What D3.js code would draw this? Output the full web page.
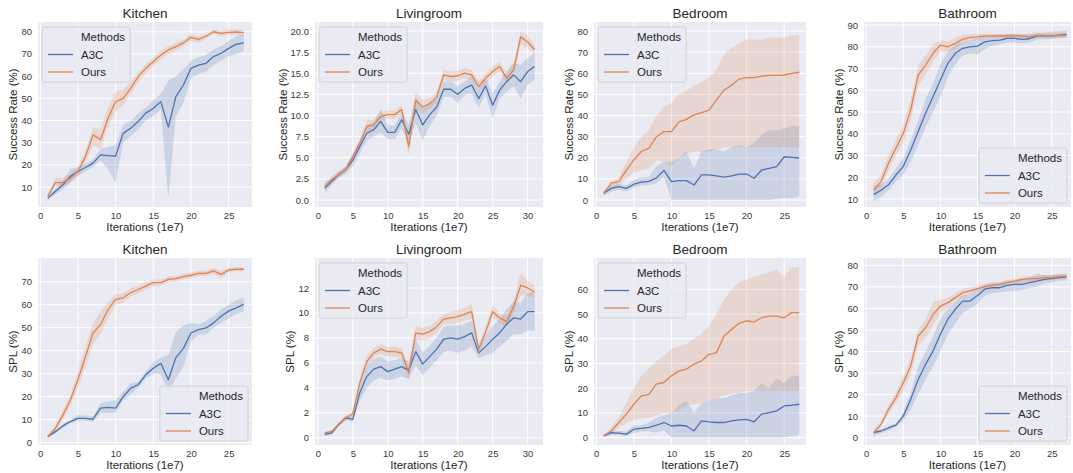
<!DOCTYPE html>
<html>
<head>
<meta charset="utf-8">
<script src="https://cdn.jsdelivr.net/npm/d3@7"></script>
<style>
  body { margin: 0; background: #fff; }
  svg { display: block; }
  text { font-family: "Liberation Sans", Arial, sans-serif; }
</style>
</head>
<body>
<svg id="chart" width="1073" height="473"></svg>
<script>
// iterations (1e7)
const iters27 = [1,2,3,4,5,6,7,8,9,10,11,12,13,14,15,16,17,18,19,20,21,22,23,24,25,26,27];
const iters31 = [1,2,3,4,5,6,7,8,9,10,11,12,13,14,15,16,17,18,19,20,21,22,23,24,25,26,27,28,29,30,31];

const methods = ['A3C', 'Ours'];

// Kitchen - success rate
const kitSrA3c   = [5, 8, 11, 14.8, 17, 18.8, 20.8, 24.5, 24.2, 24, 34.2, 36.5, 39.5, 43.3, 45.5, 48.5, 37, 50.8, 56, 63.5, 65, 65.8, 68.8, 70.3, 72.5, 74.3, 75];
const kitSrA3cLo = [4, 6.5, 9, 12, 15, 17, 19, 22, 18, 12, 30, 33, 36, 40, 42, 45, 5, 42, 48, 59, 61, 62, 65, 67, 69, 70, 71];
const kitSrA3cHi = [6, 9.5, 13, 18, 19, 20.5, 22.5, 27, 28, 29, 38, 40, 43, 46, 49, 52, 58, 60, 63, 67, 68.5, 69.5, 72, 73.5, 76, 78, 79];
const kitSrOurs   = [5.8, 12, 12, 14, 17, 23.8, 33.5, 31.3, 41, 48.5, 50, 54.5, 59.8, 63.5, 66.5, 69.5, 71.8, 73.3, 75, 77.5, 76.6, 78, 80, 79.3, 79.7, 79.9, 79.6];
const kitSrOursLo = [5, 10.5, 10, 12, 15, 21, 29, 27, 37, 44, 47, 52, 57, 61.5, 64.5, 67.5, 70, 71.5, 73.5, 76, 75, 77, 79, 78, 78.5, 78.5, 78];
const kitSrOursHi = [6.5, 14, 14, 16, 19, 26, 37, 36, 46, 53, 54, 57.5, 62, 65.5, 68.5, 71.5, 73.5, 75, 76.5, 79, 78, 79, 81, 80.5, 81, 81, 81];

// Livingroom - success rate
const livSrA3c   = [1.4, 2.2, 3.0, 3.6, 4.7, 6.3, 7.9, 8.3, 9.3, 8.0, 8.0, 9.5, 7.8, 10.7, 8.9, 10.1, 11.0, 13.1, 13.1, 12.5, 13.2, 13.6, 12.0, 13.5, 11.2, 13.0, 14.0, 14.8, 14.0, 15.2, 15.8];
const livSrA3cLo = [0.8, 1.8, 2.6, 3.2, 4.0, 5.5, 7.0, 7.5, 8.0, 7.2, 7.2, 8.5, 6.5, 9.2, 7.0, 8.8, 10.0, 12.2, 12.2, 11.5, 12.4, 12.6, 11.0, 12.5, 9.6, 12.0, 12.8, 13.5, 12.0, 13.6, 14.2];
const livSrA3cHi = [2.0, 2.6, 3.4, 4.0, 5.4, 7.0, 8.8, 9.2, 10.8, 8.8, 8.8, 10.4, 9.0, 12.2, 10.8, 11.4, 12.0, 14.0, 14.0, 13.5, 14.0, 14.6, 13.0, 14.5, 12.6, 14.0, 15.2, 16.2, 16.0, 16.8, 17.4];
const livSrOurs   = [1.6, 2.4, 3.0, 3.6, 5.1, 6.7, 8.7, 8.9, 9.9, 10.1, 10.1, 10.7, 6.3, 11.8, 11.0, 11.4, 12.2, 14.8, 14.6, 14.7, 15.0, 14.8, 13.4, 14.4, 15.2, 15.8, 14.4, 15.4, 19.3, 18.7, 17.8];
const livSrOursLo = [1.2, 2.0, 2.6, 3.2, 4.6, 6.2, 8.0, 8.3, 9.4, 9.6, 9.6, 10.2, 5.3, 10.8, 10.2, 10.8, 11.6, 14.2, 14.0, 14.1, 14.4, 14.2, 12.8, 13.8, 14.6, 15.2, 13.8, 14.6, 18.4, 18.0, 17.2];
const livSrOursHi = [2.0, 2.8, 3.4, 4.0, 5.6, 7.2, 9.4, 9.5, 10.4, 10.6, 10.6, 11.2, 7.3, 12.8, 11.8, 12.0, 12.8, 15.4, 15.2, 15.3, 15.6, 15.4, 14.0, 15.0, 15.8, 16.4, 15.0, 16.2, 20.0, 19.4, 18.4];

// Bedroom - success rate
const bedSrA3c   = [3.2, 5.5, 6.3, 5.5, 7.5, 8.5, 8.8, 10.5, 14, 8.7, 9.2, 9.2, 7.1, 11.9, 11.9, 11.4, 10.8, 11.4, 12.3, 12.3, 10.3, 14.2, 15.0, 15.8, 20.5, 20.2, 19.9];
const bedSrA3cLo = [2, 4, 5, 4, 6, 7, 7, 8, 11, 0, 0, 0, 0, 0, 0, 0, 0, 0, 0, 0, 0, 0, 0, 0.5, 1, 1, 1.5];
const bedSrA3cHi = [4.5, 7, 7.5, 7, 9.5, 10.5, 11, 16, 18, 18, 20, 23, 15, 23, 24, 24, 23, 25, 26, 25, 27, 31, 33, 33, 34, 35, 35];
const bedSrOurs   = [3.2, 8, 8.7, 14, 19, 23, 24.5, 30, 32.4, 32.4, 37, 38.2, 40.3, 41.4, 42.6, 47.4, 52, 54.4, 57.3, 58, 58, 58.7, 59, 59, 59.2, 60, 60.5];
const bedSrOursLo = [2.5, 6, 6.5, 10, 13, 14, 15, 19, 18, 16, 20, 22, 23, 23, 23, 24, 25, 25, 25, 25, 25, 25, 25, 25, 25, 25, 25];
const bedSrOursHi = [4, 9, 10.5, 18, 25, 30, 33, 40, 44, 46, 50, 52, 54, 56, 58, 62, 69, 72, 74, 76, 76, 76, 77, 77, 77, 78, 78];

// Bathroom - success rate
const bathSrA3c   = [12, 14, 16.5, 21, 25, 32.5, 41, 49.4, 57, 64.7, 72.4, 77, 79.3, 80, 80.3, 82.3, 82.8, 83.1, 83.9, 83.9, 83.4, 83.7, 85, 85, 85, 85.4, 85.7];
const bathSrA3cLo = [9, 11, 14, 18, 21, 27, 35, 43, 50, 57, 66, 72, 76, 77, 76.5, 79, 80.5, 81, 82, 82, 81.5, 82, 83.5, 83.5, 83.5, 84, 84];
const bathSrA3cHi = [16, 17, 19, 24, 29, 37, 46, 56, 63, 72, 78, 81, 82, 83, 84, 85, 85, 85.5, 85.8, 86, 85.5, 86, 86.5, 86.5, 87, 87, 87.5];
const bathSrOurs   = [14, 18, 26.4, 33.3, 40.2, 51, 67, 71.6, 77, 80.8, 80, 81.6, 83.4, 84.3, 84.6, 85, 85, 85, 85, 85, 85, 84.6, 85.2, 85.2, 85, 85.2, 85.4];
const bathSrOursLo = [12, 15, 23, 30, 36, 46, 62, 67, 73, 78, 78, 79, 81.5, 83, 83.5, 84, 84, 84, 84, 84, 84, 83.5, 84, 84, 84, 84, 84.2];
const bathSrOursHi = [17, 21, 30, 37, 44, 56, 71, 76, 81, 83, 82.5, 84, 85.5, 85.8, 86, 86, 86, 86, 86, 86, 86, 85.7, 86.3, 86.3, 86, 86.3, 86.5];

// Kitchen - SPL
const kitSplA3c   = [2.6, 4.8, 7.3, 9.2, 10.6, 10.6, 10.2, 15, 15.4, 15, 20, 23.7, 25.2, 29.5, 32.4, 34.5, 27.4, 37, 41, 47.7, 49.2, 49.9, 52.1, 55, 57.2, 58.6, 60.1];
const kitSplA3cLo = [2, 4, 6.5, 8.5, 9.5, 9.5, 9, 13, 13, 13, 18.5, 21, 24, 28, 30, 30, 22, 28, 33, 44, 47, 47, 50, 52, 54, 56, 57];
const kitSplA3cHi = [3.5, 5.5, 8, 10, 12, 11.8, 11.5, 17, 18, 18.5, 22, 26, 26.5, 31, 35, 37, 38, 48, 51, 52, 51.5, 53, 55, 58, 60, 62, 63];
const kitSplOurs   = [2.6, 6.2, 12, 18.6, 27.4, 37.5, 47.7, 51.4, 57.9, 62.3, 63, 65.2, 66.6, 68.1, 69.6, 69.6, 71, 71.3, 72.2, 72.8, 73.6, 73.6, 74.7, 73.2, 75.1, 75.4, 75.4];
const kitSplOursLo = [2, 5, 10, 16, 24, 33, 43, 47, 54, 60, 61, 63.5, 65, 66.5, 68, 68.3, 69.8, 70, 71, 71.6, 72.4, 72.4, 73.5, 71.5, 74, 74.4, 74.4];
const kitSplOursHi = [3.5, 7.5, 14, 21, 31, 42, 52, 57, 61, 64.5, 65, 67, 68.2, 69.6, 71, 71, 72.3, 72.6, 73.4, 74, 74.8, 74.8, 75.9, 74.7, 76.2, 76.4, 76.4];

// Livingroom - SPL
const livSplA3c   = [0.27, 0.4, 1.07, 1.6, 1.47, 3.6, 4.9, 5.5, 5.7, 5.3, 5.5, 5.7, 5.4, 6.9, 5.9, 6.5, 7.1, 7.9, 8.0, 7.9, 8.1, 8.4, 6.8, 7.3, 7.9, 8.4, 9.1, 9.6, 9.5, 10.1, 10.1];
const livSplA3cLo = [0.15, 0.25, 0.9, 1.4, 1.3, 3.0, 4.0, 4.6, 4.8, 4.6, 4.7, 4.9, 4.7, 5.8, 5.0, 5.6, 6.2, 6.9, 7.0, 6.8, 7.0, 7.3, 6.4, 6.6, 6.8, 7.3, 7.8, 8.3, 8.3, 8.6, 8.6];
const livSplA3cHi = [0.4, 0.6, 1.25, 1.8, 1.7, 4.2, 5.7, 6.3, 6.5, 6.1, 6.2, 6.4, 6.1, 7.9, 6.8, 7.4, 8.0, 8.9, 9.0, 9.0, 9.1, 9.4, 7.3, 8.2, 9.0, 9.5, 10.3, 10.9, 10.8, 11.6, 11.7];
const livSplOurs   = [0.4, 0.5, 1.07, 1.6, 1.9, 4.4, 6.1, 6.8, 7.1, 6.9, 6.9, 6.8, 5.2, 8.4, 8.3, 8.5, 8.9, 9.5, 9.6, 9.7, 9.9, 10.1, 7.1, 8.5, 10.1, 9.6, 9.3, 10.5, 12.2, 12.0, 11.7];
const livSplOursLo = [0.3, 0.4, 0.95, 1.45, 1.7, 4.0, 5.6, 6.4, 6.7, 6.5, 6.5, 6.4, 4.6, 7.8, 7.8, 8.0, 8.4, 9.1, 9.1, 9.2, 9.4, 9.5, 6.7, 8.1, 9.6, 9.2, 8.9, 10.0, 11.4, 11.4, 11.2];
const livSplOursHi = [0.5, 0.6, 1.2, 1.75, 2.1, 4.8, 6.6, 7.2, 7.5, 7.3, 7.3, 7.2, 5.8, 9.0, 8.8, 9.0, 9.4, 9.9, 10.1, 10.2, 10.4, 10.7, 7.5, 8.9, 10.6, 10.0, 9.7, 11.0, 13.2, 12.6, 12.2];

// Bedroom - SPL
const bedSplA3c   = [0.7, 2, 1.8, 1.4, 3.4, 3.7, 4.1, 5, 6.1, 4.7, 5, 4.7, 2.7, 6.8, 6.4, 6.1, 6.1, 6.8, 7.2, 7.4, 6.4, 9.5, 10.1, 10.8, 12.8, 13.1, 13.5];
const bedSplA3cLo = [0.2, 1, 1, 0.5, 2, 2.5, 2.5, 2, 3, 0, 0, 0, 0, 0, 0, 0, 0, 0, 0, 0, 0, 0, 0, 0, 0, 0.5, 1];
const bedSplA3cHi = [1.5, 3, 2.8, 2.5, 5, 5, 6, 8, 9, 10, 13, 15, 10, 14, 15, 16, 16, 17, 18, 18, 19, 22, 20, 24, 22, 25, 25];
const bedSplOurs   = [0.7, 2.7, 6.1, 9.5, 13.5, 16.9, 17.5, 21.6, 22.3, 25, 27, 27.7, 29.7, 31, 33.7, 34.4, 41.1, 43.8, 46.3, 47.2, 46.8, 48.5, 49.2, 49.2, 48.5, 50.6, 50.6];
const bedSplOursLo = [0.3, 1.5, 4, 6, 7, 8, 8, 9, 10, 10, 11, 13, 13.5, 14, 15, 16, 17, 18, 18, 19, 19, 19, 19, 19, 19, 19, 19];
const bedSplOursHi = [1, 4, 8, 14, 20, 25, 28, 31, 33, 36, 37, 38, 40, 42, 45, 50, 56, 60, 63, 64, 65, 66, 67, 68, 65, 69, 69];

// Bathroom - SPL
const bathSplA3c   = [2.3, 3.1, 4.5, 5.8, 10, 17.8, 27, 34, 40.2, 48, 55, 59.6, 63.4, 63.4, 66, 68.9, 69.6, 69.6, 70.7, 71.2, 71.2, 72, 72.7, 73.5, 73.8, 74.3, 74.7];
const bathSplA3cLo = [0.5, 2, 3.5, 5, 8, 13, 20, 27, 33, 40, 48, 53, 58, 60, 62, 66, 67, 67.5, 68, 68, 68.5, 69.5, 70, 71.5, 72, 73, 73];
const bathSplA3cHi = [3.5, 4.2, 5.5, 6.5, 12, 21, 33, 40, 47, 55, 60, 63, 66, 66.5, 69, 71, 71.8, 72, 72.8, 73, 73.5, 74.5, 76, 75.5, 75.5, 76, 76];
const bathSplOurs   = [2.3, 6.2, 13.1, 18.5, 25.5, 33.3, 47.2, 51, 57.2, 61.1, 62.7, 65, 67.3, 68.1, 69.2, 70.1, 70.7, 71.2, 72, 72.7, 73.5, 73.8, 73.8, 74.3, 74.3, 74.7, 75];
const bathSplOursLo = [1.5, 5, 11, 16, 22, 29, 43, 46, 52, 58, 60.5, 63, 65.5, 66.5, 67.8, 68.8, 69.4, 70, 70.8, 71.5, 72.3, 72.6, 72.6, 73.1, 73.1, 73.5, 73.8];
const bathSplOursHi = [4, 7.5, 15, 21, 29, 37, 50, 55, 63, 64, 65, 67, 69, 69.7, 70.6, 71.4, 72, 72.4, 73.2, 73.9, 74.7, 75, 75, 75.5, 75.5, 75.9, 76.2];

// tick values
const xTicks27 = [0, 5, 10, 15, 20, 25];
const xTicks31 = [0, 5, 10, 15, 20, 25, 30];
const kitSrTicks = [10, 20, 30, 40, 50, 60, 70, 80];
const livSrTicks = [0, 2.5, 5, 7.5, 10, 12.5, 15, 17.5, 20];
const bedSrTicks = [0, 10, 20, 30, 40, 50, 60, 70, 80];
const bathSrTicks = [10, 20, 30, 40, 50, 60, 70, 80, 90];
const kitSplTicks = [0, 10, 20, 30, 40, 50, 60, 70];
const livSplTicks = [0, 2, 4, 6, 8, 10, 12];
const bedSplTicks = [0, 10, 20, 30, 40, 50, 60];
const bathSplTicks = [0, 10, 20, 30, 40, 50, 60, 70, 80];

// layout
const colX = [[38, 252], [315, 543], [594, 806], [864, 1071]];
const rowY = [[22, 207], [258, 445]];
const colors = { A3C: '#4C72B0', Ours: '#DD8452' };

const panels = [
  { title: 'Kitchen', ylabel: 'Success Rate (%)', col: 0, row: 0, x: iters27, xDomain: [-0.3, 28.1], xTicks: xTicks27,
    yDomain: [1, 84.4], yTicks: kitSrTicks, fmt: d3.format('d'), legend: 'ul',
    series: [[kitSrA3c, kitSrA3cLo, kitSrA3cHi], [kitSrOurs, kitSrOursLo, kitSrOursHi]] },
  { title: 'Livingroom', ylabel: 'Success Rate (%)', col: 1, row: 0, x: iters31, xDomain: [-0.4, 32.2], xTicks: xTicks31,
    yDomain: [-0.83, 21.06], yTicks: livSrTicks, fmt: d3.format('.1f'), legend: 'ul',
    series: [[livSrA3c, livSrA3cLo, livSrA3cHi], [livSrOurs, livSrOursLo, livSrOursHi]] },
  { title: 'Bedroom', ylabel: 'Success Rate (%)', col: 2, row: 0, x: iters27, xDomain: [-0.3, 27.9], xTicks: xTicks27,
    yDomain: [-3.3, 84.3], yTicks: bedSrTicks, fmt: d3.format('d'), legend: 'ul',
    series: [[bedSrA3c, bedSrA3cLo, bedSrA3cHi], [bedSrOurs, bedSrOursLo, bedSrOursHi]] },
  { title: 'Bathroom', ylabel: 'Success Rate (%)', col: 3, row: 0, x: iters27, xDomain: [-0.3, 27.6], xTicks: xTicks27,
    yDomain: [6.3, 91.4], yTicks: bathSrTicks, fmt: d3.format('d'), legend: 'lr',
    series: [[bathSrA3c, bathSrA3cLo, bathSrA3cHi], [bathSrOurs, bathSrOursLo, bathSrOursHi]] },
  { title: 'Kitchen', ylabel: 'SPL (%)', col: 0, row: 1, x: iters27, xDomain: [-0.3, 28.1], xTicks: xTicks27,
    yDomain: [-1, 80.3], yTicks: kitSplTicks, fmt: d3.format('d'), legend: 'lr',
    series: [[kitSplA3c, kitSplA3cLo, kitSplA3cHi], [kitSplOurs, kitSplOursLo, kitSplOursHi]] },
  { title: 'Livingroom', ylabel: 'SPL (%)', col: 1, row: 1, x: iters31, xDomain: [-0.4, 32.2], xTicks: xTicks31,
    yDomain: [-0.58, 14.4], yTicks: livSplTicks, fmt: d3.format('d'), legend: 'ul',
    series: [[livSplA3c, livSplA3cLo, livSplA3cHi], [livSplOurs, livSplOursLo, livSplOursHi]] },
  { title: 'Bedroom', ylabel: 'SPL (%)', col: 2, row: 1, x: iters27, xDomain: [-0.3, 27.9], xTicks: xTicks27,
    yDomain: [-3, 72.7], yTicks: bedSplTicks, fmt: d3.format('d'), legend: 'ul',
    series: [[bedSplA3c, bedSplA3cLo, bedSplA3cHi], [bedSplOurs, bedSplOursLo, bedSplOursHi]] },
  { title: 'Bathroom', ylabel: 'SPL (%)', col: 3, row: 1, x: iters27, xDomain: [-0.3, 27.6], xTicks: xTicks27,
    yDomain: [-3.4, 83.4], yTicks: bathSplTicks, fmt: d3.format('d'), legend: 'lr',
    series: [[bathSplA3c, bathSplA3cLo, bathSplA3cHi], [bathSplOurs, bathSplOursLo, bathSplOursHi]] }
];

const svg = d3.select('#chart');
const textColor = '#262626';

panels.forEach(p => {
  const [x0, x1] = colX[p.col];
  const [y0, y1] = rowY[p.row];
  const width = x1 - x0;
  const height = y1 - y0;

  const g = svg.append('g').attr('transform', `translate(${x0},${y0})`);

  const xScale = d3.scaleLinear().domain(p.xDomain).range([0, width]);
  const yScale = d3.scaleLinear().domain(p.yDomain).range([height, 0]);

  // background + grid
  g.append('rect').attr('width', width).attr('height', height).attr('fill', '#EAEAF2');
  g.selectAll('.gy').data(p.yTicks).enter().append('line')
    .attr('x1', 0).attr('x2', width)
    .attr('y1', d => yScale(d)).attr('y2', d => yScale(d))
    .attr('stroke', '#fff').attr('stroke-width', 1);
  g.selectAll('.gx').data(p.xTicks).enter().append('line')
    .attr('y1', 0).attr('y2', height)
    .attr('x1', d => xScale(d)).attr('x2', d => xScale(d))
    .attr('stroke', '#fff').attr('stroke-width', 1);

  // confidence bands first, then lines on top
  const idx = p.x.map((_, i) => i);
  p.series.forEach((s, k) => {
    const [, lo, hi] = s;
    const area = d3.area()
      .x(i => xScale(p.x[i]))
      .y0(i => yScale(lo[i]))
      .y1(i => yScale(hi[i]));
    g.append('path').datum(idx).attr('d', area)
      .attr('fill', colors[methods[k]]).attr('fill-opacity', 0.2);
  });
  p.series.forEach((s, k) => {
    const mean = s[0];
    const line = d3.line().x(i => xScale(p.x[i])).y(i => yScale(mean[i]));
    g.append('path').datum(idx).attr('d', line)
      .attr('fill', 'none').attr('stroke', colors[methods[k]])
      .attr('stroke-width', 1.3).attr('stroke-linejoin', 'round');
  });

  // axes
  const xAxis = g.append('g').attr('transform', `translate(0,${height})`)
    .call(d3.axisBottom(xScale).tickValues(p.xTicks).tickSize(0).tickPadding(5).tickFormat(d3.format('d')));
  const yAxis = g.append('g')
    .call(d3.axisLeft(yScale).tickValues(p.yTicks).tickSize(0).tickPadding(6).tickFormat(p.fmt));
  [xAxis, yAxis].forEach(a => {
    a.select('.domain').remove();
    a.selectAll('text').attr('fill', '#3a3a3a').style('font-size', '9.5px')
      .style('font-family', '"Liberation Sans", Arial, sans-serif');
  });

  // y label sits just left of the widest tick label
  let minX = 0;
  yAxis.selectAll('text').each(function () {
    const b = this.getBBox();
    minX = Math.min(minX, b.x);
  });

  g.append('text')
    .attr('x', width / 2).attr('y', -4)
    .attr('text-anchor', 'middle').attr('fill', textColor)
    .style('font-size', '13.5px').text(p.title);

  g.append('text')
    .attr('x', width / 2).attr('y', height + 24)
    .attr('text-anchor', 'middle').attr('fill', textColor)
    .style('font-size', '11.5px').text('Iterations (1e7)');

  g.append('text')
    .attr('transform', `translate(${minX - 4},${height / 2}) rotate(-90)`)
    .attr('text-anchor', 'middle').attr('fill', textColor)
    .style('font-size', '11.5px').text(p.ylabel);

  // legend: hue title row + one row per method
  const lg = g.append('g');
  const rows = ['Methods'].concat(methods);
  const frame = lg.append('rect').attr('rx', 2.5)
    .attr('fill', '#EAEAF2').attr('fill-opacity', 0.8)
    .attr('stroke', '#cccccc').attr('stroke-width', 0.8);
  let textW = 0;
  rows.forEach((r, i) => {
    const cy = 10 + i * 17.5;
    if (i > 0) {
      lg.append('line').attr('x1', 6).attr('x2', 31).attr('y1', cy).attr('y2', cy)
        .attr('stroke', colors[r]).attr('stroke-width', 1.3);
    }
    const t = lg.append('text').attr('x', 39).attr('y', cy).attr('dy', '0.35em')
      .attr('fill', textColor).style('font-size', '11.5px').text(r);
    textW = Math.max(textW, t.node().getComputedTextLength());
  });
  const lw = 39 + textW + 5;
  const lh = 10 + 2 * 17.5 + 10;
  frame.attr('width', lw).attr('height', lh);
  if (p.legend === 'ul') {
    lg.attr('transform', 'translate(4,5)');
  } else {
    lg.attr('transform', `translate(${width - 4 - lw},${height - 4 - lh})`);
  }
});
</script>
</body>
</html>
